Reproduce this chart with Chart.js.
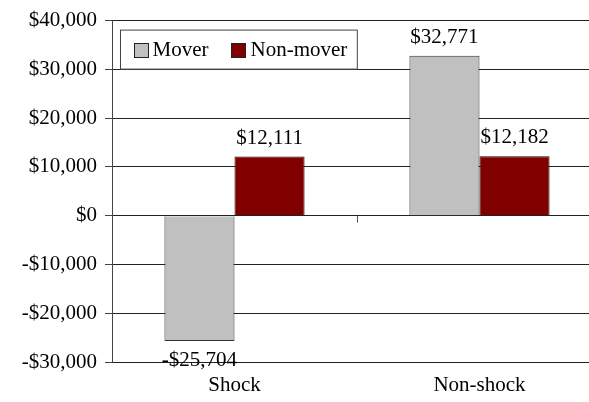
<!DOCTYPE html>
<html lang="en">
<head>
<meta charset="UTF-8">
<title>Mover vs Non-mover</title>
<script src="https://cdn.jsdelivr.net/npm/chart.js"></script>
<style>
  html, body { margin: 0; padding: 0; background: #fff; overflow: hidden; }
  #wrap { width: 602px; height: 402px; }
</style>
</head>
<body>
<div id="wrap"><canvas id="grafico"></canvas></div>
<script>
  // datos
  const categorias = ['Shock', 'Non-shock'];
  const mover = [-25704, 32771];
  const nonMover = [12111, 12182];
  const series = ['Mover', 'Non-mover'];
  const colores = ['#c0c0c0', '#800000'];
  const bordes = ['#333333', '#200000'];
  const yMin = -30000, yMax = 40000, yPaso = 10000;

  const FUENTE = 'Liberation Serif';

  function dinero(v) {
    const s = '$' + Math.abs(v).toLocaleString('en-US');
    return v < 0 ? '-' + s : s;
  }

  // etiquetas de valor sobre/bajo cada barra
  const etiquetas = {
    id: 'etiquetas',
    afterDatasetsDraw(chart) {
      const ctx = chart.ctx;
      ctx.save();
      ctx.font = '21px "' + FUENTE + '"';
      ctx.fillStyle = '#000';
      ctx.textAlign = 'center';
      chart.data.datasets.forEach((ds, i) => {
        chart.getDatasetMeta(i).data.forEach((bar, j) => {
          const v = ds.data[j];
          if (v >= 0) {
            ctx.textBaseline = 'bottom';
            ctx.fillText(dinero(v), bar.x, bar.y - 8);
          } else {
            ctx.textBaseline = 'top';
            ctx.fillText(dinero(v), bar.x, bar.y + 9);
          }
        });
      });
      ctx.restore();
    }
  };

  // marca entre categorias en el eje cero
  const marca = {
    id: 'marca',
    afterDatasetsDraw(chart) {
      const x = chart.scales.x, y = chart.scales.y;
      const ctx = chart.ctx;
      const px = Math.round((x.getPixelForValue(0) + x.getPixelForValue(1)) / 2) + 0.5;
      const py = y.getPixelForValue(0);
      ctx.save();
      ctx.strokeStyle = '#555';
      ctx.lineWidth = 1;
      ctx.beginPath();
      ctx.moveTo(px, py);
      ctx.lineTo(px, py + 7);
      ctx.stroke();
      ctx.restore();
    }
  };

  // leyenda dentro del area
  const leyenda = {
    id: 'leyenda',
    afterDraw(chart) {
      const ctx = chart.ctx;
      const a = chart.chartArea;
      ctx.save();
      ctx.font = '21px "' + FUENTE + '"';
      const bx = a.left + 8.5, by = a.top + 9.5, bh = 39;
      const cuadro = 14, padIzq = 13, hueco = 5, entre = 23, padDer = 10;
      let w = padIzq;
      const anchos = chart.data.datasets.map(d => ctx.measureText(d.label).width);
      anchos.forEach((an, i) => { w += cuadro + hueco + an + (i < anchos.length - 1 ? entre : padDer); });
      ctx.fillStyle = '#fff';
      ctx.fillRect(bx, by, w, bh);
      ctx.strokeStyle = '#444';
      ctx.lineWidth = 1;
      ctx.strokeRect(bx, by, w, bh);
      let x = bx + padIzq;
      const cy = by + bh / 2;
      chart.data.datasets.forEach((d, i) => {
        ctx.fillStyle = d.backgroundColor;
        ctx.fillRect(Math.round(x) + 0.5, Math.round(cy - cuadro / 2) + 0.5, cuadro, cuadro);
        ctx.strokeStyle = '#222';
        ctx.strokeRect(Math.round(x) + 0.5, Math.round(cy - cuadro / 2) + 0.5, cuadro, cuadro);
        x += cuadro + hueco;
        ctx.fillStyle = '#000';
        ctx.textBaseline = 'middle';
        ctx.textAlign = 'left';
        ctx.fillText(d.label, x, cy + 1);
        x += anchos[i] + entre;
      });
      ctx.restore();
    }
  };

  const ctx = document.getElementById('grafico').getContext('2d');
  new Chart(ctx, {
    type: 'bar',
    data: {
      labels: categorias,
      datasets: [
        { label: series[0], data: mover, backgroundColor: colores[0], borderColor: bordes[0], borderWidth: 1 },
        { label: series[1], data: nonMover, backgroundColor: colores[1], borderColor: bordes[1], borderWidth: 1 }
      ]
    },
    options: {
      responsive: true,
      maintainAspectRatio: false,
      animation: false,
      datasets: { bar: { categoryPercentage: 0.572, barPercentage: 1 } },
      layout: { padding: { top: 10, right: 0, bottom: 0, left: 0 } },
      scales: {
        x: {
          grid: { display: false },
          border: { display: false },
          ticks: { color: '#000', padding: 3, font: { family: FUENTE, size: 21 } },
          afterFit: s => { s.height = 40; }
        },
        y: {
          min: yMin,
          max: yMax,
          ticks: {
            stepSize: yPaso,
            color: '#000',
            padding: 8,
            font: { family: FUENTE, size: 21 },
            callback: v => dinero(v)
          },
          grid: { color: '#222', tickLength: 7, tickColor: '#444' },
          border: { color: '#444' },
          afterFit: s => { s.width = 112; }
        }
      },
      plugins: {
        legend: { display: false },
        tooltip: { enabled: false }
      }
    },
    plugins: [etiquetas, marca, leyenda]
  });
</script>
</body>
</html>
